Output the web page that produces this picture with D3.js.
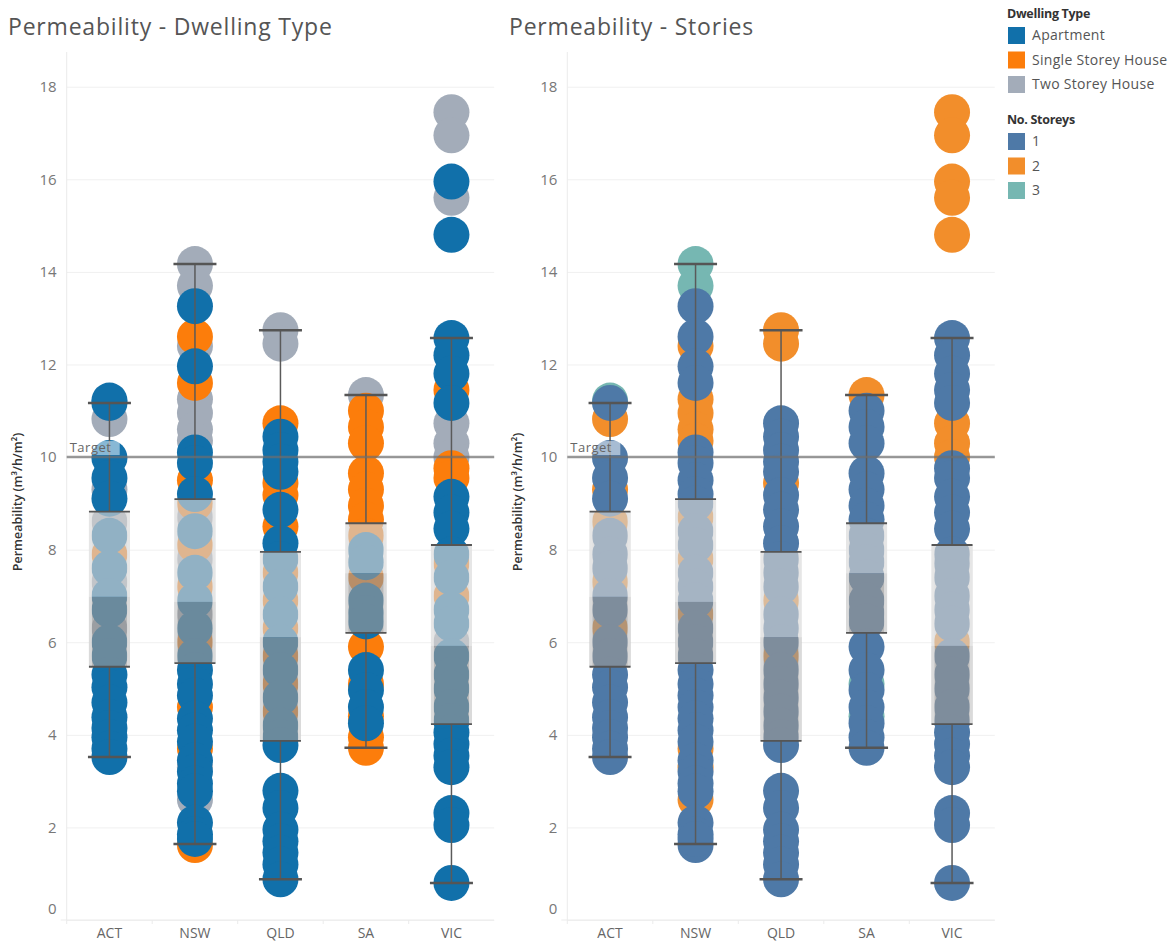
<!DOCTYPE html>
<html>
<head>
<meta charset="utf-8">
<script src="https://cdn.jsdelivr.net/npm/d3@7"></script>
<style>
  body { margin: 0; background: #fff; }
  svg { display: block; }
</style>
</head>
<body>
<script>
// categories
const states = ['ACT', 'NSW', 'QLD', 'SA', 'VIC'];
const dwellingTypes = ['Apartment', 'Single Storey House', 'Two Storey House'];
const dwellingCodes = ['A', 'S', 'T'];
const storeyLevels = [1, 2, 3];
const yTicks = [0, 2, 4, 6, 8, 10, 12, 14, 16, 18];
const targetValue = 10;

// box plot stats per state (same order as states)
const whiskerLow = [3.52, 1.64, 0.88, 3.72, 0.8];
const quartile1 = [5.47, 5.55, 3.87, 6.2, 4.23];
const medians = [6.98, 6.87, 6.11, 7.49, 5.92];
const quartile3 = [8.82, 9.09, 7.95, 8.57, 8.1];
const whiskerHigh = [11.17, 14.17, 12.74, 11.34, 12.57];

// points: [permeability, dwelling code, storeys]
const actPoints = [
  [11.22, 'A', 3], [11.17, 'A', 1], [10.82, 'T', 2], [9.98, 'A', 1], [9.55, 'A', 1], [9.3, 'T', 2], [9.1, 'A', 1],
  [8.6, 'T', 2], [8.3, 'A', 1], [7.9, 'S', 1], [7.6, 'A', 1], [7.3, 'T', 2], [7.0, 'A', 1], [6.7, 'A', 1],
  [6.3, 'T', 2], [6.0, 'A', 1], [5.7, 'A', 1], [5.3, 'A', 1], [5.03, 'A', 1], [4.7, 'A', 1], [4.38, 'A', 1],
  [4.15, 'A', 1], [3.95, 'A', 1], [3.7, 'A', 1], [3.52, 'A', 1]
];
const nswPoints = [
  [14.17, 'T', 3], [13.7, 'T', 3], [13.26, 'A', 1], [12.6, 'S', 1], [12.4, 'T', 2], [11.96, 'A', 1], [11.6, 'S', 1],
  [11.25, 'T', 2], [10.95, 'T', 2], [10.6, 'T', 2], [10.35, 'T', 2], [10.1, 'A', 1], [9.87, 'A', 1], [9.5, 'S', 1],
  [9.2, 'A', 1], [9.0, 'S', 1], [8.7, 'T', 2], [8.4, 'A', 1], [8.1, 'S', 1], [7.8, 'T', 2], [7.5, 'A', 1],
  [7.2, 'S', 1], [6.9, 'A', 1], [6.6, 'T', 2], [6.3, 'A', 1], [6.0, 'S', 1], [5.7, 'A', 1], [5.4, 'A', 1],
  [5.1, 'A', 1], [4.85, 'A', 1], [4.6, 'S', 1], [4.35, 'A', 1], [4.1, 'A', 1], [3.85, 'A', 1], [3.7, 'S', 2],
  [3.45, 'A', 1], [3.3, 'T', 2], [3.2, 'A', 1], [2.95, 'A', 1], [2.6, 'T', 2], [2.78, 'A', 1], [2.1, 'A', 1],
  [1.85, 'A', 1], [1.62, 'S', 1], [1.75, 'A', 1]
];
const qldPoints = [
  [12.74, 'T', 2], [12.45, 'T', 2], [10.73, 'S', 1], [10.44, 'A', 1], [10.15, 'A', 1], [9.9, 'A', 1], [9.68, 'A', 1],
  [9.44, 'S', 2], [9.18, 'S', 1], [8.86, 'A', 1], [8.5, 'S', 1], [8.14, 'A', 1], [7.8, 'A', 1], [7.5, 'S', 1],
  [7.2, 'A', 1], [6.9, 'S', 2], [6.6, 'A', 1], [6.3, 'S', 1], [6.0, 'A', 1], [5.7, 'S', 2], [5.4, 'A', 1],
  [5.1, 'S', 1], [4.8, 'A', 1], [4.5, 'S', 1], [4.2, 'A', 1], [3.95, 'A', 1], [3.78, 'A', 1], [2.79, 'A', 1],
  [2.42, 'A', 1], [1.95, 'A', 1], [1.7, 'A', 1], [1.45, 'A', 1], [1.2, 'A', 1], [0.88, 'A', 1]
];
const saPoints = [
  [11.34, 'T', 2], [11.0, 'S', 1], [10.65, 'S', 1], [10.3, 'S', 1], [9.65, 'S', 1], [9.3, 'S', 1], [8.95, 'S', 1],
  [8.65, 'S', 1], [8.3, 'S', 1], [7.99, 'A', 1], [7.73, 'A', 1], [7.4, 'S', 1], [6.9, 'A', 1], [6.63, 'A', 1],
  [6.45, 'A', 1], [5.9, 'S', 1], [5.4, 'A', 1], [5.1, 'S', 3], [4.97, 'A', 1], [4.6, 'A', 1], [4.4, 'S', 3],
  [4.25, 'A', 1], [3.95, 'S', 1], [3.72, 'S', 1]
];
const vicPoints = [
  [17.45, 'T', 2], [16.95, 'T', 2], [15.95, 'A', 2], [15.6, 'T', 2], [14.8, 'A', 2], [12.57, 'A', 1], [12.2, 'A', 1],
  [11.8, 'A', 1], [11.45, 'S', 1], [11.17, 'A', 1], [10.73, 'T', 2], [10.3, 'T', 2], [10.0, 'T', 2], [9.76, 'S', 1],
  [9.55, 'S', 1], [9.14, 'A', 1], [8.8, 'A', 1], [8.45, 'A', 1], [7.9, 'A', 1], [7.7, 'S', 1], [7.4, 'A', 1],
  [7.0, 'S', 1], [6.7, 'A', 1], [6.4, 'A', 1], [6.0, 'T', 2], [5.7, 'A', 1], [5.3, 'A', 1], [5.0, 'A', 1],
  [4.6, 'A', 1], [4.3, 'A', 1], [4.05, 'A', 1], [3.8, 'A', 1], [3.55, 'A', 1], [3.3, 'A', 1], [2.31, 'A', 1],
  [2.05, 'A', 1], [0.8, 'A', 1]
];

const typeColors = ['#1170aa', '#fc7d0b', '#a3acb9'];
const storeyColors = ['#4e79a7', '#f28e2b', '#76b7b2'];

const W = 1173, H = 943;
const plotW = 427.5, plotTop = 52, plotBottom = 920;

const pointsByState = [actPoints, nswPoints, qldPoints, saPoints, vicPoints];
const points = states.flatMap((s, i) =>
  pointsByState[i].map(p => ({ state: s, value: p[0], type: p[1], storeys: p[2] })));

const boxes = states.map((s, i) => ({
  state: s, low: whiskerLow[i], q1: quartile1[i], med: medians[i], q3: quartile3[i], high: whiskerHigh[i]
}));

const typeColor = d3.scaleOrdinal().domain(dwellingCodes).range(typeColors);
const storeyColor = d3.scaleOrdinal().domain(storeyLevels).range(storeyColors);

const svg = d3.select('body').append('svg')
  .attr('width', W)
  .attr('height', H)
  .style('font-family', "'Open Sans', sans-serif");

const charts = [
  {
    title: 'Permeability - Dwelling Type', left: 66.7, titleX: 8,
    color: d => typeColor(d.type),
    order: d => ['T', 'S', 'A'].indexOf(d.type)
  },
  {
    title: 'Permeability - Stories', left: 567.3, titleX: 509,
    color: d => storeyColor(d.storeys),
    order: d => 3 - d.storeys
  }
];

charts.forEach(chart => {
  const left = chart.left;
  const x = d3.scaleBand().domain(states).range([left, left + plotW]);
  const y = d3.scaleLinear().domain([0, 18]).range([plotBottom, 86.7]);
  const cx = s => x(s) + x.bandwidth() / 2;
  const g = svg.append('g');

  g.append('text')
    .attr('x', chart.titleX)
    .attr('y', 35)
    .attr('fill', '#555')
    .style('font-size', '23px')
    .style('letter-spacing', '0.8px')
    .text(chart.title);

  // gridlines
  g.append('g')
    .attr('transform', `translate(${left},0)`)
    .call(d3.axisLeft(y).tickValues(yTicks).tickSize(-plotW).tickFormat(''))
    .call(s => s.select('.domain').remove())
    .selectAll('line')
    .attr('stroke', '#f0f0f0');

  g.append('line')
    .attr('x1', left).attr('x2', left)
    .attr('y1', plotTop).attr('y2', plotBottom + 4)
    .attr('stroke', '#ebebeb');

  g.append('line')
    .attr('x1', left - 6).attr('x2', left + plotW)
    .attr('y1', plotBottom).attr('y2', plotBottom)
    .attr('stroke', '#ebebeb');

  // y axis labels
  const yAxis = g.append('g')
    .attr('transform', `translate(${left},0)`)
    .call(d3.axisLeft(y).tickValues(yTicks).tickSize(0).tickPadding(10));
  yAxis.select('.domain').remove();
  yAxis.selectAll('text')
    .attr('fill', '#777')
    .style('font-size', '15px')
    .style('font-family', "'Open Sans', sans-serif");
  yAxis.selectAll('.tick').filter(d => d === 0).select('text').attr('y', -11);

  g.append('text')
    .attr('transform', `translate(${left - 45},${(plotTop + plotBottom) / 2 + 16}) rotate(-90)`)
    .attr('text-anchor', 'middle')
    .attr('fill', '#333')
    .style('font-size', '12.5px')
    .style('font-weight', 600)
    .text('Permeability (m³/h/m²)');

  // x axis
  const xAxis = g.append('g')
    .attr('transform', `translate(0,${plotBottom})`)
    .call(d3.axisBottom(x).tickSize(0).tickPadding(8));
  xAxis.select('.domain').remove();
  xAxis.selectAll('text')
    .attr('fill', '#666')
    .style('font-size', '14px')
    .style('font-family', "'Open Sans', sans-serif");

  g.selectAll('line.sep')
    .data(states.slice(1))
    .join('line')
    .attr('class', 'sep')
    .attr('x1', d => x(d)).attr('x2', d => x(d))
    .attr('y1', plotBottom).attr('y2', plotBottom + 4)
    .attr('stroke', '#ebebeb');

  // points
  const sorted = d3.sort(points, chart.order);
  g.append('g')
    .selectAll('circle')
    .data(sorted)
    .join('circle')
    .attr('cx', d => cx(d.state))
    .attr('cy', d => y(d.value))
    .attr('r', 18)
    .attr('fill', chart.color);

  // boxes
  const bw = 41;
  const bg = g.append('g');
  bg.selectAll('rect.upper')
    .data(boxes)
    .join('rect')
    .attr('class', 'upper')
    .attr('x', d => cx(d.state) - bw / 2)
    .attr('y', d => y(d.q3))
    .attr('width', bw)
    .attr('height', d => y(d.med) - y(d.q3))
    .attr('fill', 'rgba(209,209,209,0.67)');
  bg.selectAll('rect.lower')
    .data(boxes)
    .join('rect')
    .attr('class', 'lower')
    .attr('x', d => cx(d.state) - bw / 2)
    .attr('y', d => y(d.med))
    .attr('width', bw)
    .attr('height', d => y(d.q1) - y(d.med))
    .attr('fill', 'rgba(150,150,150,0.67)');
  [-1, 1].forEach(side => {
    bg.selectAll(null)
      .data(boxes)
      .join('line')
      .attr('x1', d => cx(d.state) + side * (bw / 2 - 1.5))
      .attr('x2', d => cx(d.state) + side * (bw / 2 - 1.5))
      .attr('y1', d => y(d.q3))
      .attr('y2', d => y(d.q1))
      .attr('stroke', 'rgba(232,232,232,0.7)')
      .attr('stroke-width', 3);
  });

  // whiskers
  bg.selectAll('line.wu')
    .data(boxes)
    .join('line')
    .attr('x1', d => cx(d.state)).attr('x2', d => cx(d.state))
    .attr('y1', d => y(d.high)).attr('y2', d => y(d.q3))
    .attr('stroke', '#5a5a5a').attr('stroke-width', 1.5);
  bg.selectAll('line.wl')
    .data(boxes)
    .join('line')
    .attr('x1', d => cx(d.state)).attr('x2', d => cx(d.state))
    .attr('y1', d => y(d.q1)).attr('y2', d => y(d.low))
    .attr('stroke', '#5a5a5a').attr('stroke-width', 1.5);
  ['high', 'low', 'q1', 'q3'].forEach(k => {
    bg.selectAll(null)
      .data(boxes)
      .join('line')
      .attr('x1', d => cx(d.state) - bw / 2 - (k === 'high' || k === 'low' ? 1 : 0))
      .attr('x2', d => cx(d.state) + bw / 2 + (k === 'high' || k === 'low' ? 1 : 0))
      .attr('y1', d => y(d[k])).attr('y2', d => y(d[k]))
      .attr('stroke', '#555')
      .attr('stroke-width', k === 'high' || k === 'low' ? 2.5 : 1.8);
  });

  // target reference line
  g.append('line')
    .attr('x1', left).attr('x2', left + plotW)
    .attr('y1', y(targetValue)).attr('y2', y(targetValue))
    .attr('stroke', 'rgba(110,110,110,0.7)')
    .attr('stroke-width', 2.5);
  g.append('rect')
    .attr('x', left + 1).attr('y', y(targetValue) - 16)
    .attr('width', 52).attr('height', 14)
    .attr('fill', 'rgba(255,255,255,0.5)');
  g.append('text')
    .attr('x', left + 3)
    .attr('y', y(targetValue) - 5)
    .attr('fill', '#666')
    .style('font-size', '13px')
    .style('letter-spacing', '0.5px')
    .text('Target');
});

// legends
const legend = svg.append('g').attr('transform', 'translate(1007,0)');
const legendBlocks = [
  { title: 'Dwelling Type', top: 18, labels: dwellingTypes, colors: typeColors },
  { title: 'No. Storeys', top: 124, labels: storeyLevels.map(String), colors: storeyColors }
];
legendBlocks.forEach(b => {
  legend.append('text')
    .attr('x', 0).attr('y', b.top)
    .attr('fill', '#333')
    .style('font-size', '12.5px')
    .style('font-weight', 700)
    .style('letter-spacing', '-0.3px')
    .text(b.title);
  const items = legend.selectAll(null)
    .data(b.labels)
    .join('g')
    .attr('transform', (d, i) => `translate(0,${b.top + 17 + i * 24.5})`);
  items.append('rect')
    .attr('x', 1).attr('y', -8)
    .attr('width', 17).attr('height', 17)
    .attr('fill', (d, i) => b.colors[i]);
  items.append('text')
    .attr('x', 25).attr('y', 5)
    .attr('fill', '#555')
    .style('font-size', '14px')
    .style('letter-spacing', '0.3px')
    .text(d => d);
});
</script>
</body>
</html>
